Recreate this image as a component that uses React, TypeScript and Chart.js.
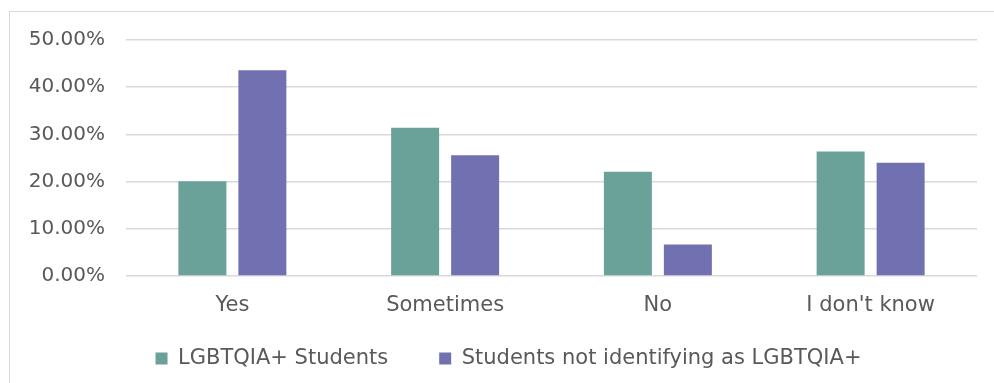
import React, { useEffect, useRef } from "react";
import { Chart, registerables } from "chart.js";

Chart.register(...registerables);

const categories = ["Yes", "Sometimes", "No", "I don't know"];
const seriesNames = ["LGBTQIA+ Students", "Students not identifying as LGBTQIA+"];
const lgbtqiaValues = [20.1, 31.4, 22.1, 26.4];
const nonLgbtqiaValues = [43.6, 25.6, 6.7, 24.0];
const yTicks = [0, 10, 20, 30, 40, 50];

const GREEN = "#6aa199";
const PURPLE = "#7170b0";
const TEXT = "#595959";
const GRID = "#d9d9d9";
const FONT = "'DejaVu Sans', sans-serif";

// The legend's item spacing is wide, but its row sits close under the axis
// labels and slightly right of centre: move the legend box after layout.
// Only its top edge is raised, so the clip area still covers the row.
const LEGEND_LIFT = 21;
const LEGEND_SHIFT_X = 10;
const legendPlacement = {
  id: "legendPlacement",
  afterLayout(chart: any) {
    const legend = chart.legend;
    if (!legend) return;
    legend.top -= LEGEND_LIFT;
    legend.left += LEGEND_SHIFT_X;
    legend.right += LEGEND_SHIFT_X;
  },
};

export default function App() {
  const canvasRef = useRef<HTMLCanvasElement | null>(null);

  useEffect(() => {
    document.body.style.margin = "0";
    const canvas = canvasRef.current;
    if (!canvas) return;
    const chart = new Chart(canvas, {
      type: "bar",
      data: {
        labels: categories,
        datasets: [
          {
            label: seriesNames[0],
            data: lgbtqiaValues,
            backgroundColor: GREEN,
            categoryPercentage: 0.564,
            barPercentage: 0.8,
          },
          {
            label: seriesNames[1],
            data: nonLgbtqiaValues,
            backgroundColor: PURPLE,
            categoryPercentage: 0.564,
            barPercentage: 0.8,
          },
        ],
      },
      plugins: [legendPlacement],
      options: {
        animation: false,
        responsive: false,
        maintainAspectRatio: false,
        layout: { padding: { left: 20, right: 17, top: 40, bottom: 5 } },
        plugins: {
          tooltip: { enabled: false },
          legend: {
            position: "bottom",
            maxHeight: 60,
            labels: {
              color: TEXT,
              font: { family: FONT, size: 21 },
              boxWidth: 12,
              boxHeight: 12,
              padding: 51,
            },
          },
        },
        scales: {
          x: {
            afterFit: (scale: any) => {
              scale.height = 42;
            },
            grid: { display: false, drawTicks: false },
            border: { display: false },
            ticks: { color: TEXT, font: { family: FONT, size: 21 }, padding: 17 },
          },
          y: {
            min: 0,
            max: 50,
            afterFit: (scale: any) => {
              scale.width = 106;
            },
            afterBuildTicks: (scale: any) => {
              scale.ticks = yTicks.map((v) => ({ value: v }));
            },
            grid: { color: GRID, lineWidth: 1.5, drawTicks: false },
            border: { display: false },
            ticks: {
              color: TEXT,
              font: { family: FONT, size: 20 },
              padding: 21,
              callback: (v: any) => Number(v).toFixed(2) + "%",
            },
          },
        },
      },
    });
    return () => chart.destroy();
  }, []);

  return (
    <div style={{ position: "relative", width: 994, height: 383, overflow: "hidden", background: "#fff" }}>
      <div
        style={{
          position: "absolute",
          left: 9,
          top: 11,
          width: 1100,
          height: 500,
          border: "1.5px solid #d9d9d9",
          boxSizing: "border-box",
        }}
      />
      <canvas ref={canvasRef} width={994} height={383} style={{ position: "absolute", left: 0, top: 0 }} />
    </div>
  );
}
